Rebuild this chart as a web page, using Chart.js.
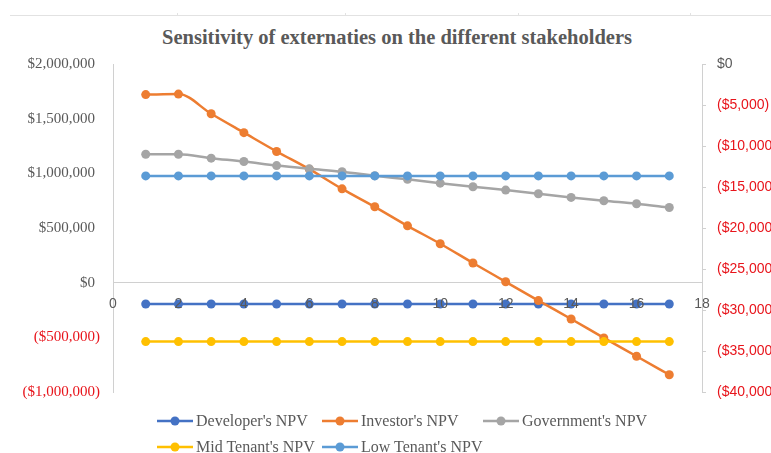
<!DOCTYPE html>
<html>
<head>
<meta charset="utf-8">
<script src="https://cdn.jsdelivr.net/npm/chart.js@4.4.1/dist/chart.umd.min.js"></script>
<style>
  html, body { margin: 0; padding: 0; background: #fff; overflow: hidden; }
  #frame { position: relative; width: 771px; height: 453px; overflow: hidden; }
  #rule { position: absolute; left: 10px; right: 0; top: 15px; height: 1px; background: #e2e2e2; }
  .notch { position: absolute; top: 13px; width: 1px; height: 2px; background: #e2e2e2; }
  #title { position: absolute; left: 0; width: 794px; top: 26px; text-align: center;
           font: bold 20.5px "Liberation Serif", "Times New Roman", serif; color: #595959; white-space: nowrap; }
  #plot { position: absolute; left: 0; top: 0; }
  .key { position: absolute; display: flex; align-items: center; white-space: nowrap;
         font: 16px "Liberation Serif", "Times New Roman", serif; color: #595959; }
  .key canvas { margin-right: 3px; }
</style>
</head>
<body>
<div id="frame">
  <div id="rule"></div>
  <div class="notch" style="left:177px"></div>
  <div class="notch" style="left:345px"></div>
  <div class="notch" style="left:518px"></div>
  <div class="notch" style="left:690px"></div>
  <div id="title">Sensitivity of externaties on the different stakeholders</div>
  <canvas id="plot" width="800" height="453"></canvas>
  <div id="keys"></div>
</div>
<script>
// Scenario step (x) shared by every series
const xValues = [1, 2, 3, 4, 5, 6, 7, 8, 9, 10, 11, 12, 13, 14, 15, 16, 17];

// NPVs on the left axis ($)
const developerNPV = [-195000, -195000, -195000, -195000, -195000, -195000, -195000, -195000, -195000,
                      -195000, -195000, -195000, -195000, -195000, -195000, -195000, -195000];
const investorNPV = [1720000, 1725000, 1545000, 1372000, 1200000, 1038000, 858000, 694000, 520000,
                     356000, 180000, 8000, -164000, -332000, -505000, -673000, -842000];
const governmentNPV = [1175000, 1175000, 1139000, 1108000, 1071000, 1041000, 1014000, 978000, 945000,
                       910000, 877000, 847000, 813000, 780000, 749000, 722000, 688000];

// Tenant NPVs on the right axis ($)
const midTenantNPV = [-33850, -33850, -33850, -33850, -33850, -33850, -33850, -33850, -33850,
                      -33850, -33850, -33850, -33850, -33850, -33850, -33850, -33850];
const lowTenantNPV = [-13650, -13650, -13650, -13650, -13650, -13650, -13650, -13650, -13650,
                      -13650, -13650, -13650, -13650, -13650, -13650, -13650, -13650];

const seriesNames = ["Developer's NPV", "Investor's NPV", "Government's NPV", "Mid Tenant's NPV", "Low Tenant's NPV"];
const seriesColors = ['#4472c4', '#ed7d31', '#a5a5a5', '#ffc000', '#5b9bd5'];
const seriesValues = [developerNPV, investorNPV, governmentNPV, midTenantNPV, lowTenantNPV];
const seriesAxis = ['y', 'y', 'y', 'y1', 'y1'];

const GRAY = '#595959';
const RED = '#e8141b';
const AXIS = '#d0d0d0';

function money(v) {
  const s = '$' + Math.abs(v).toLocaleString('en-US');
  return v < 0 ? '(' + s + ')' : s;
}

const datasets = seriesNames.map((name, i) => ({
  label: name,
  data: xValues.map((x, k) => ({ x: x, y: seriesValues[i][k] })),
  yAxisID: seriesAxis[i],
  borderColor: seriesColors[i],
  backgroundColor: seriesColors[i],
  borderWidth: 2.5,
  pointRadius: 4.5,
  pointBorderWidth: 0,
  pointBackgroundColor: seriesColors[i],
  tension: 0.35,
  cubicInterpolationMode: 'monotone',
  order: seriesNames.length - i
}));

new Chart(document.getElementById('plot'), {
  type: 'line',
  data: { datasets: datasets },
  options: {
    responsive: false,
    animation: false,
    devicePixelRatio: 1,
    layout: { padding: { top: 64, bottom: 61, left: 0, right: 0 } },
    plugins: { legend: { display: false }, tooltip: { enabled: false }, title: { display: false } },
    scales: {
      x: {
        type: 'linear',
        min: 0, max: 18,
        position: { y: 0 },
        afterFit: s => { s.height = 0; },
        grid: { display: false, drawTicks: false },
        border: { display: true, color: AXIS, width: 1 },
        ticks: { stepSize: 2, padding: 13, color: GRAY, z: 1,
                 font: { family: 'Liberation Sans, Arial, sans-serif', size: 14 } }
      },
      y: {
        position: 'left',
        min: -1000000, max: 2000000,
        afterFit: s => { s.width = 113; },
        grid: { display: false, drawTicks: false },
        border: { display: true, color: AXIS, width: 1 },
        ticks: {
          stepSize: 500000, padding: 13,
          callback: v => v < 0 ? money(v) : money(v) + '\u2004',
          color: c => (c.tick && c.tick.value < 0) ? RED : GRAY,
          font: { family: 'Liberation Serif, Times New Roman, serif', size: 15 }
        }
      },
      y1: {
        position: 'right',
        min: -40000, max: 0,
        afterFit: s => { s.width = 98; },
        grid: { display: true, drawOnChartArea: false, drawTicks: true, tickLength: 4, color: AXIS },
        border: { display: true, color: AXIS, width: 1 },
        ticks: {
          stepSize: 5000, padding: 11,
          callback: v => money(v),
          color: c => (c.tick && c.tick.value < 0) ? RED : GRAY,
          font: { family: 'Liberation Sans, Arial, sans-serif', size: 14 }
        }
      }
    }
  }
});

// Legend: line-with-marker swatch followed by the series name
const keyPlaces = [[157, 421], [322, 421], [483, 421], [157, 447], [322, 447]];
const keys = document.getElementById('keys');
seriesNames.forEach((name, i) => {
  const item = document.createElement('div');
  item.className = 'key';
  item.style.left = keyPlaces[i][0] + 'px';
  item.style.top = (keyPlaces[i][1] - 10) + 'px';
  item.style.height = '20px';
  const sw = document.createElement('canvas');
  sw.width = 36; sw.height = 12;
  const g = sw.getContext('2d');
  g.strokeStyle = seriesColors[i]; g.lineWidth = 2.5;
  g.beginPath(); g.moveTo(0, 6); g.lineTo(36, 6); g.stroke();
  g.fillStyle = seriesColors[i];
  g.beginPath(); g.arc(18, 6, 4.5, 0, Math.PI * 2); g.fill();
  const t = document.createElement('span');
  t.textContent = name;
  item.appendChild(sw); item.appendChild(t);
  keys.appendChild(item);
});
</script>
</body>
</html>
